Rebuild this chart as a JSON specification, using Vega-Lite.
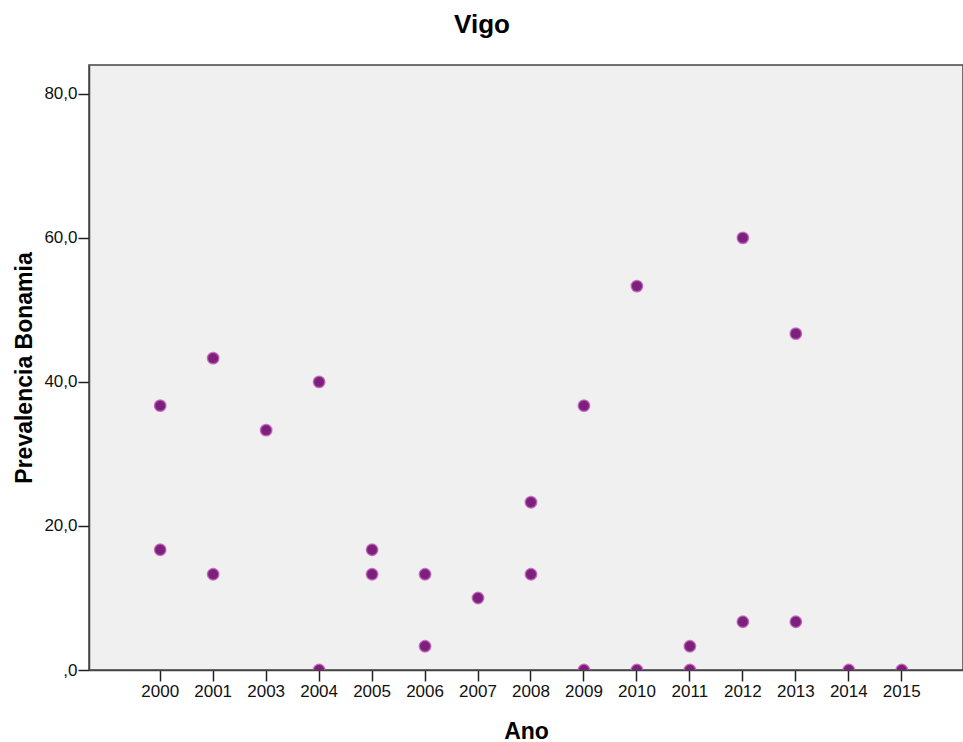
{
  "$schema": "https://vega.github.io/schema/vega-lite/v6.json",
  "autosize": "none",
  "width": 874,
  "height": 605,
  "padding": {"left": 89, "top": 65, "right": 0, "bottom": 72},
  "background": "#ffffff",
  "title": {
    "text": "Vigo",
    "font": "Liberation Sans",
    "fontSize": 26,
    "fontWeight": "bold",
    "color": "#000000",
    "anchor": "middle",
    "frame": "group",
    "baseline": "alphabetic",
    "offset": 6,
    "dx": -44
  },
  "config": {
    "view": {"fill": "#f0f0f0", "stroke": "#444444", "strokeWidth": 1.5},
    "axis": {
      "labelFont": "Liberation Sans",
      "titleFont": "Liberation Sans",
      "labelFontSize": 17,
      "titleFontSize": 23,
      "titleFontWeight": "bold",
      "labelColor": "#111111",
      "titleColor": "#000000",
      "domainColor": "#444444",
      "domainWidth": 1.5,
      "tickColor": "#222222",
      "tickWidth": 1.5,
      "tickSize": 11,
      "grid": false
    }
  },
  "data": {
    "values": [
      {"Ano": "2000", "Prevalencia": 36.7},
      {"Ano": "2000", "Prevalencia": 16.7},
      {"Ano": "2001", "Prevalencia": 43.3},
      {"Ano": "2001", "Prevalencia": 13.3},
      {"Ano": "2003", "Prevalencia": 33.3},
      {"Ano": "2004", "Prevalencia": 40.0},
      {"Ano": "2004", "Prevalencia": 0},
      {"Ano": "2005", "Prevalencia": 16.7},
      {"Ano": "2005", "Prevalencia": 13.3},
      {"Ano": "2006", "Prevalencia": 13.3},
      {"Ano": "2006", "Prevalencia": 3.3},
      {"Ano": "2007", "Prevalencia": 10.0},
      {"Ano": "2008", "Prevalencia": 23.3},
      {"Ano": "2008", "Prevalencia": 13.3},
      {"Ano": "2009", "Prevalencia": 36.7},
      {"Ano": "2009", "Prevalencia": 0},
      {"Ano": "2010", "Prevalencia": 53.3},
      {"Ano": "2010", "Prevalencia": 0},
      {"Ano": "2011", "Prevalencia": 3.3},
      {"Ano": "2011", "Prevalencia": 0},
      {"Ano": "2012", "Prevalencia": 60.0},
      {"Ano": "2012", "Prevalencia": 6.7},
      {"Ano": "2013", "Prevalencia": 46.7},
      {"Ano": "2013", "Prevalencia": 6.7},
      {"Ano": "2014", "Prevalencia": 0},
      {"Ano": "2015", "Prevalencia": 0}
    ]
  },
  "mark": {
    "type": "circle",
    "clip": true,
    "size": 130,
    "fill": "#7d1f7d",
    "fillOpacity": 1,
    "stroke": "#c060b8",
    "strokeWidth": 1.5,
    "strokeOpacity": 0.8
  },
  "encoding": {
    "x": {
      "field": "Ano",
      "type": "ordinal",
      "scale": {"type": "band", "paddingInner": 0.5, "paddingOuter": 1, "align": 0.547},
      "axis": {"title": "Ano", "labelAngle": 0, "labelPadding": 2, "titlePadding": 21, "bandPosition": 0.5}
    },
    "y": {
      "field": "Prevalencia",
      "type": "quantitative",
      "scale": {"domain": [0, 84], "nice": false, "zero": true},
      "axis": {
        "title": "Prevalencia Bonamia",
        "values": [0, 20, 40, 60, 80],
        "labelExpr": "datum.value == 0 ? ',0' : replace(format(datum.value, '.1f'), '.', ',')",
        "labelPadding": 1,
        "titlePadding": 7
      }
    }
  }
}
